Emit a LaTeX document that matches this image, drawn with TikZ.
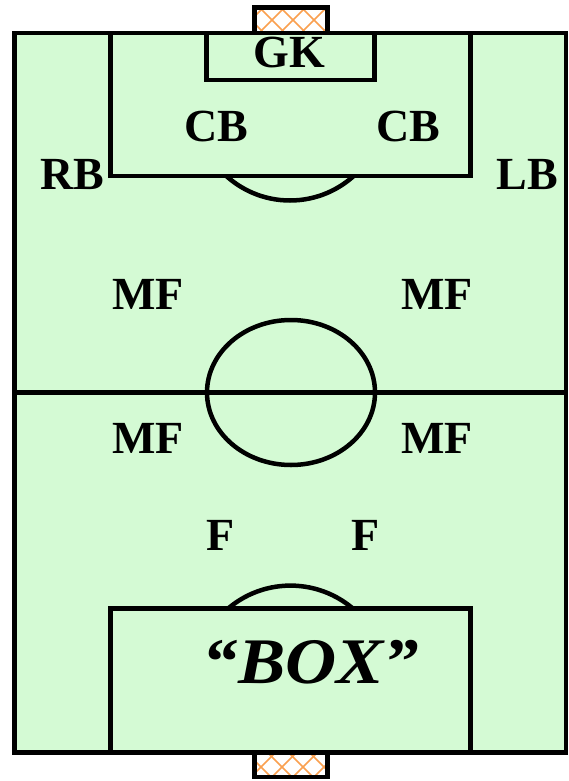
\documentclass[tikz,border=0pt]{standalone}
\usepackage{fontspec}
\setmainfont{Liberation Serif}
\usetikzlibrary{positioning}
\definecolor{pitch}{RGB}{212,250,212}
\definecolor{netcol}{RGB}{250,160,80}

\begin{document}
\begin{tikzpicture}[x=1pt, y=-1pt, line width=4.5pt,
    every node/.style={font=\fontsize{46}{50}\selectfont\bfseries, anchor=base, inner sep=0pt},
    net/.style={netcol, line width=1.5pt}]
          \useasboundingbox (0,0) rectangle (569,781);
          % goals
          \begin{scope}
            \clip (254.5,7.5) rectangle (327.5,33);
            \fill[white] (254.5,7.5) rectangle (327.5,33);
            \foreach \k in {-6,...,6} {
              \draw[net] (252+21*\k,0) -- ++(40,40);
              \draw[net] (292+21*\k,0) -- ++(-40,40);
            }
          \end{scope}
          \draw (254.5,33) -- (254.5,7.5) -- (327.5,7.5) -- (327.5,33);
          \begin{scope}
            \clip (254.5,752.5) rectangle (327.5,777);
            \fill[white] (254.5,752.5) rectangle (327.5,777);
            \foreach \k in {-6,...,6} {
              \draw[net] (260+21*\k,745) -- ++(40,40);
              \draw[net] (304+21*\k,745) -- ++(-40,40);
            }
          \end{scope}
          \draw (254.5,752.5) -- (254.5,777) -- (327.5,777) -- (327.5,752.5);
          % pitch
          \draw[fill=pitch] (14.5,33) rectangle (566,752.5);
          \draw (14.5,392.5) -- (566,392.5);
          \draw (291,392.5) ellipse [x radius=84pt, y radius=72.5pt];
          \draw (110.5,33) rectangle (470.5,176);
          \draw (206.5,33) rectangle (374.5,80);
          \draw (110.5,608.5) rectangle (470.5,752.5);
          \begin{scope}
            \clip (0,176) rectangle (569,230);
            \draw (290,105.5) circle [radius=95pt];
          \end{scope}
          \begin{scope}
            \clip (0,560) rectangle (569,608.5);
            \draw (290.5,682) circle [radius=96.4pt];
          \end{scope}
          % players
          \node at (289,68) (gk) {GK};
          \node at (216,141) (cbl) {CB};
          \node at (408,141) (cbr) {CB};
          \node at (72,189) (rb) {RB};
          \node at (527,189) (lb) {LB};
          \node at (148,309) (mf1) {MF};
          \node at (437,309) (mf2) {MF};
          \node at (148,453) (mf3) {MF};
          \node at (437,453) (mf4) {MF};
          \node at (221,550) (f1) {F};
          \node at (366,550) (f2) {F};
          \node at (311,683) (box) {\scalebox{1.09}[1]{\fontsize{65}{70}\selectfont\itshape “BOX”}};
 \end{tikzpicture}
\end{document}
